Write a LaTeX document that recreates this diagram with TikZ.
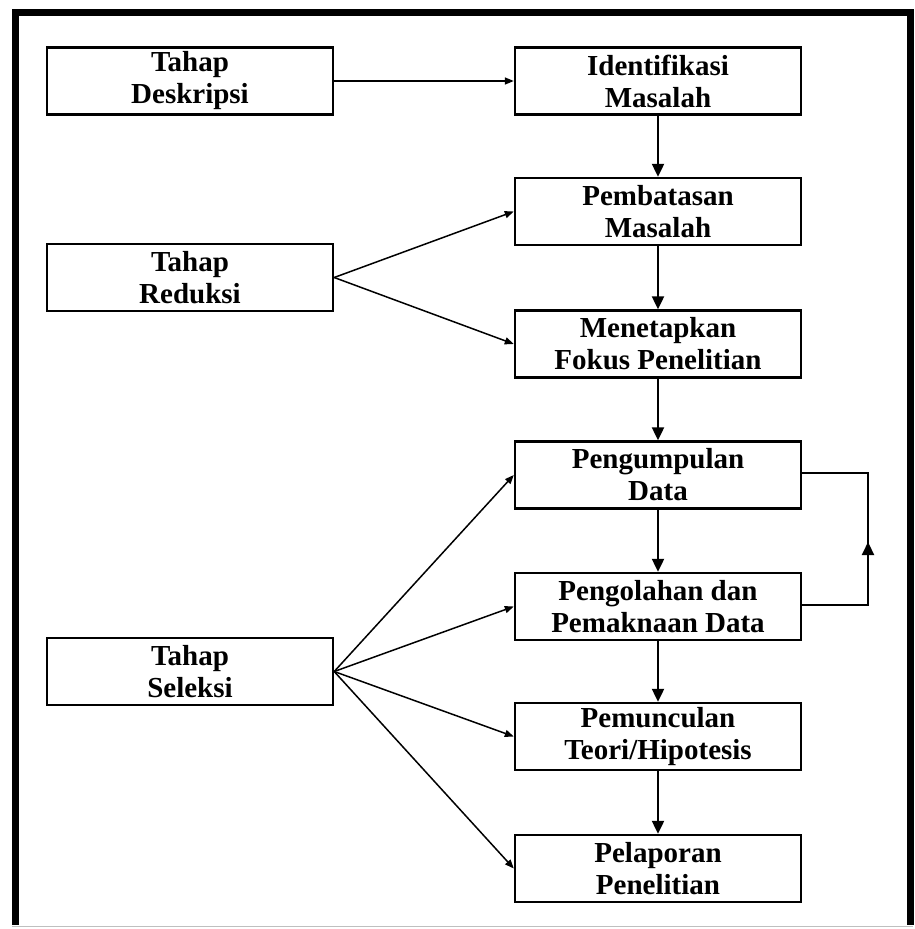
\documentclass[tikz,border=0pt]{standalone}
\usepackage{fontspec}
\setmainfont{Liberation Serif}
\usetikzlibrary{arrows.meta}
\begin{document}
\begin{tikzpicture}[x=1pt,y=-1pt,
  box/.style={draw, line width=2.4pt, minimum width=286pt, minimum height=67pt, inner sep=0pt, align=center,
    font=\fontsize{29}{32}\selectfont\bfseries},
  vline/.style={line width=2.2pt, -{Triangle[length=13pt,width=12pt]}},
  dline/.style={line width=1.5pt, -{Triangle[length=9pt,width=7pt]}},
  fline/.style={line width=2.2pt}]
\useasboundingbox (0,0) rectangle (914,929);
% frame
\draw[line width=7pt] (15,925) -- (15,12) -- (910,12) -- (910,925);
\draw[line width=1pt, black!25] (12,926) -- (913,926);
% left column
\node[box] (desk) at (190,81) {Tahap\\Deskripsi};
\node[box] (red) at (190,277.5) {Tahap\\Reduksi};
\node[box] (sel) at (190,671.5) {Tahap\\Seleksi};
% right column
\node[box] (iden) at (658,81) {Identifikasi\\Masalah};
\node[box] (pemb) at (658,211.5) {Pembatasan\\Masalah};
\node[box] (men) at (658,344) {Menetapkan\\Fokus Penelitian};
\node[box] (peng) at (658,475) {Pengumpulan\\Data};
\node[box] (olah) at (658,606.5) {Pengolahan dan\\Pemaknaan Data};
\node[box] (mun) at (658,736.5) {Pemunculan\\Teori/Hipotesis};
\node[box] (lap) at (658,868.5) {Pelaporan\\Penelitian};
% vertical arrows
\draw[vline] (iden) -- (pemb);
\draw[vline] (pemb) -- (men);
\draw[vline] (men) -- (peng);
\draw[vline] (peng) -- (olah);
\draw[vline] (olah) -- (mun);
\draw[vline] (mun) -- (lap);
% diagonal arrows
\draw[dline] (desk.east) -- (iden.west);
\draw[dline] (red.east) -- (pemb.west);
\draw[dline] (red.east) -- (men.west);
\draw[dline] (sel.east) -- (peng.west);
\draw[dline] (sel.east) -- (olah.west);
\draw[dline] (sel.east) -- (mun.west);
\draw[dline] (sel.east) -- (lap.west);
% feedback loop
\coordinate (fb1) at (868,605);
\coordinate (fbm) at (868,542);
\coordinate (fb2) at (868,473);
\draw[fline] (olah.east |- fb1) -- (fb1) -- (fb2) -- (peng.east |- fb2);
\draw[vline] (fb1) -- (fbm);
\end{tikzpicture}
\end{document}
